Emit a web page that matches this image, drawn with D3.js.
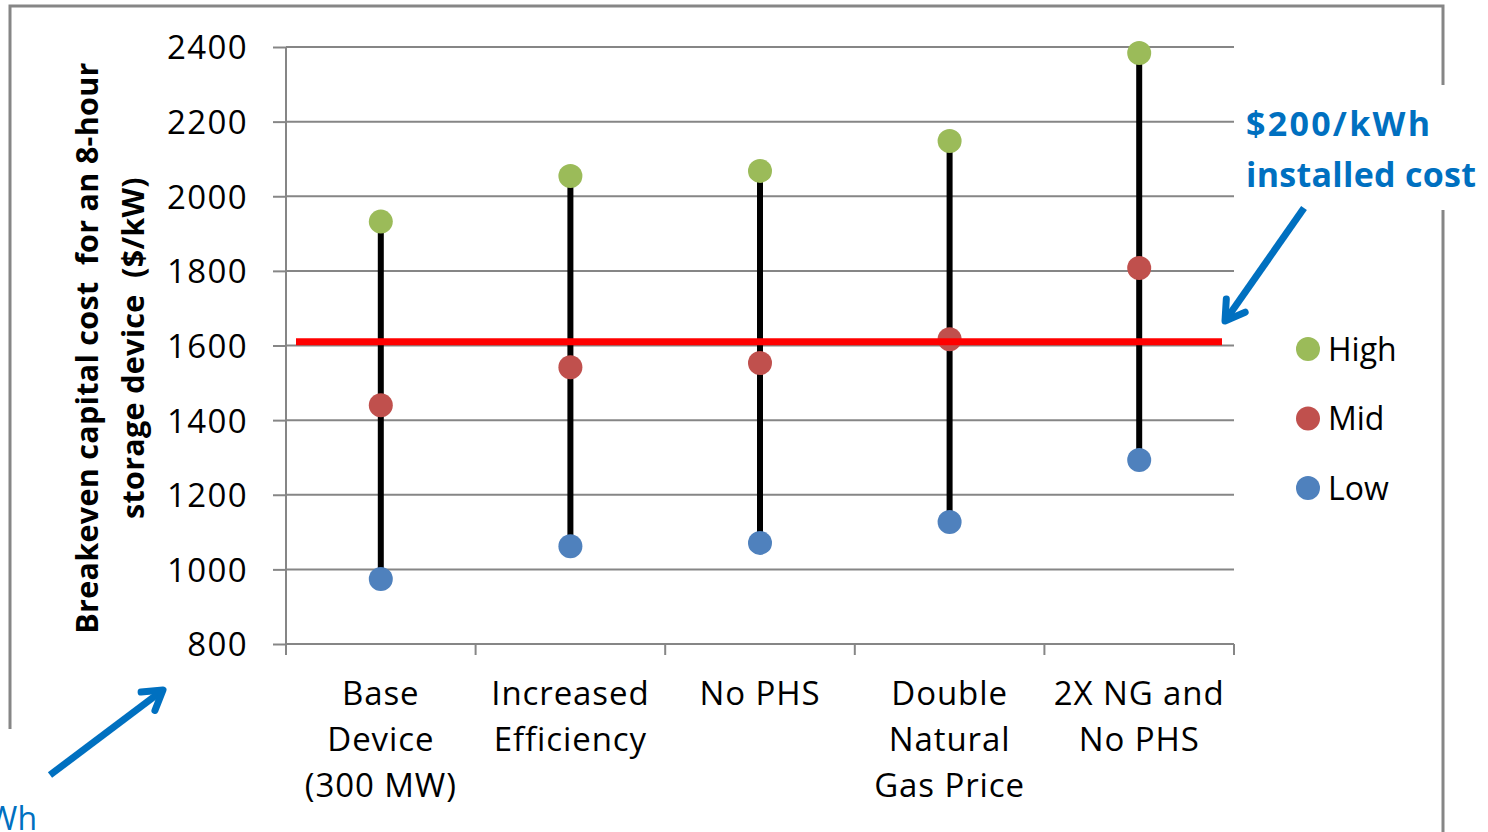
<!DOCTYPE html>
<html><head><meta charset="utf-8">
<script src="https://cdn.jsdelivr.net/npm/d3@7"></script>
<style>html,body{margin:0;padding:0;background:#fff;}svg{display:block;} text{white-space:pre;}</style>
</head><body>
<script>
const categories = [["Base","Device","(300 MW)"],["Increased","Efficiency"],["No PHS"],["Double","Natural","Gas Price"],["2X NG and","No PHS"]];
const highValues = [1932, 2054, 2068, 2148, 2384];
const midValues  = [1440, 1542, 1553, 1617, 1808];
const lowValues  = [974, 1062, 1071, 1127, 1293];
const yTicks = [800,1000,1200,1400,1600,1800,2000,2200,2400];
const thresholdValue = 1610;
const seriesNames = ["High","Mid","Low"];
const seriesColors = ["#9BBB59","#C0504D","#4F81BD"];

const W=1488,H=832;
const svg=d3.select("body").append("svg").attr("width",W).attr("height",H);
const font="'Open Sans', sans-serif";
const grey="#868686";

const ids=categories.map((c,i)=>i);
const x=d3.scaleBand().domain(ids).range([286,1234]).padding(0);
const y=d3.scaleLinear().domain([800,2400]).range([644,47]);

// outer frame
const frame=svg.append("g").attr("stroke",grey).attr("stroke-width",3).attr("fill","none");
frame.append("path").attr("d","M10,729 L10,6 L1443,6 L1443,85");
frame.append("path").attr("d","M1443,210 L1443,832");

// gridlines
svg.append("g").selectAll("line").data(yTicks.filter(v=>v>800)).join("line")
  .attr("x1",286).attr("x2",1234).attr("y1",d=>y(d)).attr("y2",d=>y(d))
  .attr("stroke",grey).attr("stroke-width",2);

// y axis
const ya=svg.append("g").attr("transform","translate(286,0)")
  .call(d3.axisLeft(y).tickValues(yTicks).tickSize(13).tickPadding(25).tickFormat(d3.format("d")));
ya.select(".domain").attr("stroke",grey).attr("stroke-width",2).attr("d","M0,"+y(2400)+"V655");
ya.selectAll(".tick line").attr("stroke",grey).attr("stroke-width",2);
ya.selectAll(".tick text").attr("font-family",font).attr("font-size",33).attr("letter-spacing",1.4).attr("fill","#000").attr("dy","0.36em");

// x axis
svg.append("line").attr("x1",286).attr("x2",1234).attr("y1",y(800)).attr("y2",y(800)).attr("stroke",grey).attr("stroke-width",2);
const bounds=ids.map(i=>x(i)).concat([x.range()[1]]);
svg.append("g").selectAll("line").data(bounds).join("line")
  .attr("x1",d=>d).attr("x2",d=>d).attr("y1",y(800)).attr("y2",655).attr("stroke",grey).attr("stroke-width",2);
const xl=svg.append("g").selectAll("text").data(categories).join("text")
  .attr("x",(d,i)=>x(i)+x.bandwidth()/2).attr("y",705)
  .attr("text-anchor","middle").attr("font-family",font).attr("font-size",33).attr("letter-spacing",0.9).attr("fill","#000");
xl.selectAll("tspan").data(d=>d).join("tspan")
  .attr("x",function(){return this.parentNode.getAttribute("x");})
  .attr("dy",(d,i)=>i===0?0:46).text(d=>d);

// y title
const yt=svg.append("text").attr("transform","translate(98,348) rotate(-90)")
  .attr("text-anchor","middle").attr("font-family",font).attr("font-weight","bold").attr("font-size",30.5).attr("letter-spacing",0.3).attr("fill","#000");
yt.append("tspan").attr("x",0).attr("dy",0).text("Breakeven capital cost  for an 8-hour");
yt.append("tspan").attr("x",0).attr("dy",46).text("storage device  ($/kW)");

// range bars
svg.append("g").selectAll("line").data(ids).join("line")
  .attr("x1",i=>x(i)+x.bandwidth()/2).attr("x2",i=>x(i)+x.bandwidth()/2)
  .attr("y1",i=>y(lowValues[i])).attr("y2",i=>y(highValues[i]))
  .attr("stroke","#000").attr("stroke-width",6);

// points
const series=[highValues,midValues,lowValues];
series.forEach((vals,s)=>{
  svg.append("g").selectAll("circle").data(vals).join("circle")
    .attr("cx",(d,i)=>x(i)+x.bandwidth()/2).attr("cy",d=>y(d)).attr("r",12)
    .attr("fill",seriesColors[s]);
});

// threshold line (drawn on top)
svg.append("line").attr("x1",296).attr("x2",1222).attr("y1",y(thresholdValue)).attr("y2",y(thresholdValue))
  .attr("stroke","#FF0000").attr("stroke-width",7);

// legend
const lg=svg.append("g").selectAll("g").data(seriesNames).join("g")
  .attr("transform",(d,i)=>`translate(1308,${349+i*69.5})`);
lg.append("circle").attr("r",12).attr("fill",(d,i)=>seriesColors[i]);
lg.append("text").attr("x",20).attr("dy","0.36em").attr("font-family",font).attr("font-size",32).attr("fill","#000").text(d=>d);

// annotations
const blue="#0070C0";
svg.append("rect").attr("x",1236).attr("y",85).attr("width",252).attr("height",125).attr("fill","#fff");
const an=svg.append("text").attr("font-family",font).attr("font-weight","bold").attr("font-size",34).attr("fill",blue);
an.append("tspan").attr("x",1246).attr("y",136).attr("textLength",184).attr("lengthAdjust","spacing").text("$200/kWh");
an.append("tspan").attr("x",1246).attr("y",187).attr("textLength",230).attr("lengthAdjust","spacing").text("installed cost");

function arrow(x1,y1,x2,y2){
  const g=svg.append("g").attr("stroke",blue).attr("stroke-width",7).attr("fill","none").attr("stroke-linecap","round");
  g.append("line").attr("x1",x1).attr("y1",y1).attr("x2",x2).attr("y2",y2).attr("stroke-linecap","butt");
  const a=Math.atan2(y2-y1,x2-x1), L=22, sp=0.55;
  g.append("path").attr("d",`M${x2-L*Math.cos(a-sp)},${y2-L*Math.sin(a-sp)} L${x2},${y2} L${x2-L*Math.cos(a+sp)},${y2-L*Math.sin(a+sp)}`)
   .attr("stroke-linejoin","round");
}
arrow(1304,208,1225,321);
arrow(50,775,163,690);

svg.append("text").attr("x",37).attr("y",830).attr("text-anchor","end").attr("font-family",font).attr("font-size",32).attr("fill",blue).text("$100/kWh");
</script>
</body></html>
